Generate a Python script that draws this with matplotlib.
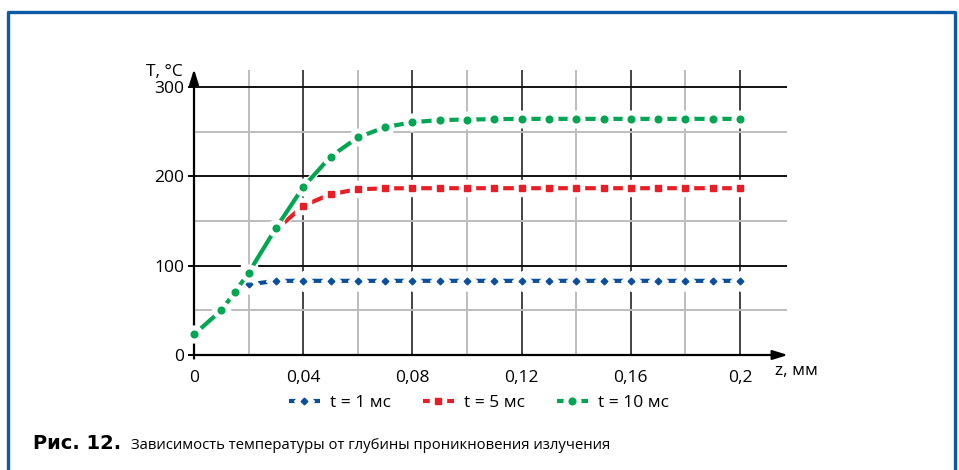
import matplotlib
matplotlib.use('Agg')
import matplotlib.pyplot as plt
import matplotlib.patheffects as pe
from matplotlib.lines import Line2D

plt.rcParams['font.family'] = ['Open Sans', 'DejaVu Sans']

# данные
z = [0, 0.01, 0.015, 0.02, 0.03, 0.04, 0.05, 0.06, 0.07, 0.08, 0.09, 0.1,
     0.11, 0.12, 0.13, 0.14, 0.15, 0.16, 0.17, 0.18, 0.19, 0.2]
t1 = [23, 49, 67, 79, 83, 83, 83, 83, 83, 83, 83, 83,
      83, 83, 83, 83, 83, 83, 83, 83, 83, 83]
t5 = [23, 49, 70, 92, 140, 167, 180, 185.5, 186.5, 186.7, 186.7, 186.7,
      186.7, 186.7, 186.7, 186.7, 186.7, 186.7, 186.7, 186.7, 186.7, 186.7]
t10 = [23, 50, 70.5, 92, 142, 188, 222, 243.5, 255, 260.5, 263, 263.5,
       264, 264.3, 264.3, 264.3, 264.3, 264.3, 264.3, 264.3, 264.3, 264.3]

labels = ['t = 1 мс', 't = 5 мс', 't = 10 мс']
colors = ['#0a4f9e', '#ec1c24', '#00a651']
markers = ['D', 's', 'o']
msizes = [3.4, 4.6, 4.8]
halos = [10.5, 12, 12]

xticks = [0, 0.04, 0.08, 0.12, 0.16, 0.2]
xticklabels = ['0', '0,04', '0,08', '0,12', '0,16', '0,2']
yticks = [0, 100, 200, 300]
fs = 12.5

fig = plt.figure(figsize=(9.59, 4.70), dpi=100)
ax = fig.add_axes([194/959, 115/470, 592.5/959, 285/470])
ax.set_xlim(0, 0.217)
ax.set_ylim(0, 319)

# сетка
for x in [0.02, 0.06, 0.10, 0.14, 0.18]:
    ax.axvline(x, color='#bdbdbd', lw=1.4, zorder=0)
for x in [0.04, 0.08, 0.12, 0.16, 0.2]:
    ax.axvline(x, color='#444444', lw=1.4, zorder=0)
for y in [50, 150, 250]:
    ax.axhline(y, color='#bdbdbd', lw=1.4, zorder=0)
for y in [100, 200, 300]:
    ax.axhline(y, color='#111111', lw=1.4, zorder=0)

handles = []
for i, vals in enumerate([t1, t5, t10]):
    ln, = ax.plot(z, vals, color=colors[i], lw=3.0, solid_capstyle='butt', zorder=3 + i,
                  path_effects=[pe.Stroke(linewidth=4.6, foreground='white'), pe.Normal()])
    hl, = ax.plot(z, vals, ls='none', marker=markers[i], ms=halos[i], mfc='white', mec='white',
                  zorder=3 + i, clip_on=False)
    mk, = ax.plot(z, vals, ls='none', marker=markers[i], ms=msizes[i], mfc=colors[i],
                  mec=colors[i], zorder=3 + i, clip_on=False)
    handles.append((ln, hl, mk))

for s in ax.spines.values():
    s.set_visible(False)

# оси со стрелками
ax.annotate('', xy=(0.2175, 0), xytext=(0, 0), xycoords='data', annotation_clip=False,
            arrowprops=dict(arrowstyle='-|>,head_length=0.9,head_width=0.28', color='black',
                            lw=1.6, shrinkA=0, shrinkB=0))
ax.annotate('', xy=(0, 320), xytext=(0, -4), xycoords='data', annotation_clip=False,
            arrowprops=dict(arrowstyle='-|>,head_length=0.9,head_width=0.28', color='black',
                            lw=1.6, shrinkA=0, shrinkB=0))

ax.set_xticks(xticks)
ax.set_xticklabels(xticklabels)
ax.set_yticks(yticks)
ax.tick_params(axis='x', length=0, pad=11, labelsize=fs)
ax.tick_params(axis='y', length=4, width=1.4, pad=3, labelsize=fs)

ax.text(-0.0042, 317, 'T, °C', ha='right', va='center', fontsize=fs)
ax.text(0.2128, -18, 'z, мм', ha='left', va='center', fontsize=fs)

leg = fig.legend(handles, labels, loc='center', bbox_to_anchor=(479/959, 1 - 403/470),
                 ncol=3, frameon=False, fontsize=fs, handlelength=1.8, columnspacing=1.8,
                 handletextpad=0.6)

# подпись
fig.text(33/959, 1 - 449/470, 'Рис. 12.', fontsize=14, fontweight='bold',
         family='DejaVu Sans', va='baseline')
fig.text(131/959, 1 - 449/470, 'Зависимость температуры от глубины проникновения излучения',
         fontsize=10.7, va='baseline')

# рамка
fig.add_artist(Line2D([7.5/959, 7.5/959, 954.5/959, 954.5/959], [0, 1 - 11.5/470, 1 - 11.5/470, 0],
                      transform=fig.transFigure, color='#0a5aa8', lw=2.4))

fig.savefig('out.png', dpi=100)
